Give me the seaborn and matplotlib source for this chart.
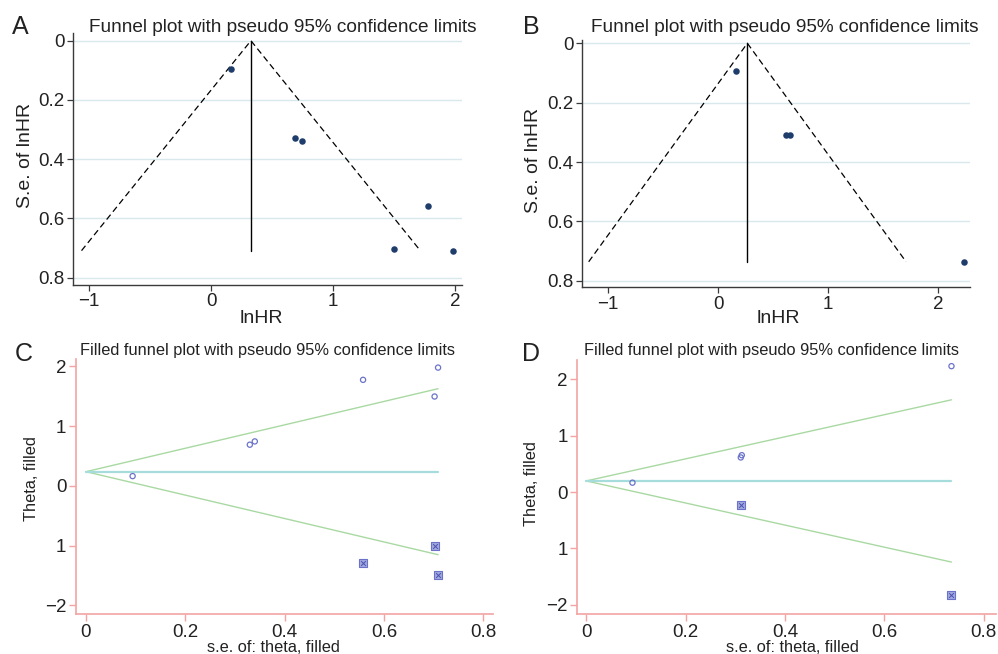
import numpy as np
import pandas as pd
import matplotlib
matplotlib.use("Agg")
import matplotlib.pyplot as plt
import seaborn as sns

# 데이터
# A : lnHR, se
a_lnhr = [0.164, 0.690, 0.745, 1.776, 1.497, 1.981]
a_se = [0.094, 0.330, 0.340, 0.558, 0.702, 0.709]
a_pooled = 0.326
# B
b_lnhr = [0.167, 0.615, 0.655, 2.236]
b_se = [0.093, 0.309, 0.309, 0.736]
b_pooled = 0.267
# C : trim and fill
c_theta = [0.164, 0.690, 0.745, 1.776, 1.497, 1.981]
c_se = [0.094, 0.330, 0.340, 0.558, 0.702, 0.709]
c_fill_theta = [-1.005, -1.290, -1.490]
c_fill_se = [0.702, 0.558, 0.709]
c_pooled = 0.238
# D
d_theta = [0.167, 0.615, 0.655, 2.236]
d_se = [0.093, 0.311, 0.313, 0.735]
d_fill_theta = [-0.235, -1.825]
d_fill_se = [0.312, 0.735]
d_pooled = 0.198

funnel_ticks_y = [0, 0.2, 0.4, 0.6, 0.8]
funnel_tick_labels_y = ["0", "0.2", "0.4", "0.6", "0.8"]
a_ticks_x = [-1, 0, 1, 2]
filled_ticks_y = [2, 1, 0, -1, -2]
filled_tick_labels_y = ["2", "1", "0", "1", "\u22122"]
filled_ticks_x = [0, 0.2, 0.4, 0.6, 0.8]
filled_tick_labels_x = ["0", "0.2", "0.4", "0.6", "0.8"]

sns.set_theme(style="white")
plt.rcParams['font.family'] = ['Liberation Sans', 'DejaVu Sans']

W, H = 998, 654
fig = plt.figure(figsize=(W / 100, H / 100), dpi=100)


def px_axes(left, top, right, bottom):
    return fig.add_axes([left / W, 1 - bottom / H, (right - left) / W, (bottom - top) / H])


def ftext(x, y, s, **kw):
    fig.text(x / W, 1 - y / H, s, **kw)


NAVY = "#1e3d6b"
GRID = "#d9e8ec"
SPINE = "#3a3a3a"
TXT = "#222222"


def funnel(ax, lnhr, se, pooled, xlim, ylim):
    for y in funnel_ticks_y:
        ax.axhline(y, color=GRID, lw=1.0, zorder=0)
    maxse = max(se)
    df_line = pd.DataFrame({"x": [pooled - 1.96 * maxse, pooled, pooled + 1.96 * maxse],
                            "y": [maxse, 0, maxse]})
    ax.plot(df_line.x, df_line.y, color="black", lw=0.9, ls=(0, (5, 3)))
    ax.plot([pooled, pooled], [0, maxse], color="black", lw=1.0)
    sns.scatterplot(x=lnhr, y=se, ax=ax, color=NAVY, s=22, edgecolor=NAVY, linewidth=0, zorder=3)
    ax.set_xlim(*xlim)
    ax.set_ylim(*ylim)
    ax.set_yticks(funnel_ticks_y)
    ax.set_yticklabels(funnel_tick_labels_y)
    ax.set_xticks(a_ticks_x)
    ax.set_xticklabels(["\u22121", "0", "1", "2"])
    for s in ["top", "right"]:
        ax.spines[s].set_visible(False)
    for s in ["left", "bottom"]:
        ax.spines[s].set_color(SPINE)
        ax.spines[s].set_linewidth(1.0)
    ax.tick_params(axis="both", which="both", direction="out", length=4, width=0.9,
                   color=SPINE, labelsize=13.5, labelcolor=TXT, pad=2, left=True, bottom=True)
    ax.set_xlabel("")
    ax.set_ylabel("")


PINK = "#f4a3a3"
GREEN = "#a9d9a2"
TEAL = "#a6dcdc"
BLUE = "#6b73c9"


def filled(ax, theta, se, f_theta, f_se, pooled, xlim, ylim):
    maxse = max(se + f_se)
    ax.plot([0, maxse], [pooled, pooled + 1.96 * maxse], color=GREEN, lw=1.0)
    ax.plot([0, maxse], [pooled, pooled - 1.96 * maxse], color=GREEN, lw=1.0)
    ax.plot([0, maxse], [pooled, pooled], color=TEAL, lw=1.6)
    sns.scatterplot(x=se, y=theta, ax=ax, marker="o", s=14, facecolors="none",
                    edgecolor=BLUE, linewidth=0.9, zorder=3)
    sns.scatterplot(x=f_se, y=f_theta, ax=ax, marker="s", s=40, color="#a3a9df",
                    edgecolor=BLUE, linewidth=0.8, zorder=3)
    sns.scatterplot(x=f_se, y=f_theta, ax=ax, marker="x", s=12, color="#4a52b0",
                    linewidth=0.7, zorder=4)
    ax.set_xlim(*xlim)
    ax.set_ylim(*ylim)
    ax.set_yticks(filled_ticks_y)
    ax.set_yticklabels(filled_tick_labels_y)
    ax.set_xticks(filled_ticks_x)
    ax.set_xticklabels(filled_tick_labels_x)
    for s in ["top", "right"]:
        ax.spines[s].set_visible(False)
    for s in ["left", "bottom"]:
        ax.spines[s].set_color(PINK)
        ax.spines[s].set_linewidth(1.2)
    ax.tick_params(axis="both", which="both", direction="out", length=5, width=1.0,
                   color=PINK, labelsize=13.5, labelcolor=TXT, pad=2, left=True, bottom=True)
    ax.set_xlabel("")
    ax.set_ylabel("")


# A
axA = px_axes(72.7, 33.3, 461.7, 285)
funnel(axA, a_lnhr, a_se, a_pooled, (-1.136, 2.055), (0.825, -0.025))
# B
axB = px_axes(581.7, 40, 969.7, 287.3)
funnel(axB, b_lnhr, b_se, b_pooled, (-1.239, 2.288), (0.822, -0.011))
# C
axC = px_axes(76, 358.7, 492.7, 614.3)
filled(axC, c_theta, c_se, c_fill_theta, c_fill_se, c_pooled, (-0.02, 0.819), (-2.15, 2.13))
# D
axD = px_axes(577.3, 360.3, 995.7, 614.3)
filled(axD, d_theta, d_se, d_fill_theta, d_fill_se, d_pooled, (-0.018, 0.824), (-2.17, 2.34))

# 패널 문자, 제목, 축 이름
letter_kw = dict(fontsize=18, ha="center", va="center", color=TXT)
ftext(20, 27, "A", **letter_kw)
ftext(531, 27, "B", **letter_kw)
ftext(24, 354, "C", **letter_kw)
ftext(531, 354, "D", **letter_kw)

ftext(283, 28, "Funnel plot with pseudo 95% confidence limits", fontsize=13.7, ha="center", va="center", color=TXT)
ftext(785, 28, "Funnel plot with pseudo 95% confidence limits", fontsize=13.7, ha="center", va="center", color=TXT)
ftext(267, 351, "Filled funnel plot with pseudo 95% confidence limits", fontsize=11.8, ha="center", va="center", color=TXT)
ftext(772, 351, "Filled funnel plot with pseudo 95% confidence limits", fontsize=11.8, ha="center", va="center", color=TXT)

ftext(261, 319, "lnHR", fontsize=14, ha="center", va="center", color=TXT)
ftext(778, 319, "lnHR", fontsize=14, ha="center", va="center", color=TXT)
ftext(26, 155, "S.e. of lnHR", fontsize=14, ha="center", va="center", rotation=90, color=TXT)
ftext(534, 160, "S.e. of lnHR", fontsize=14, ha="center", va="center", rotation=90, color=TXT)

ftext(273, 647, "s.e. of: theta, filled", fontsize=11.8, ha="center", va="center", color=TXT)
ftext(792, 647, "s.e. of: theta, filled", fontsize=11.8, ha="center", va="center", color=TXT)
ftext(32, 479, "Theta, filled", fontsize=11.8, ha="center", va="center", rotation=90, color=TXT)
ftext(531, 484, "Theta, filled", fontsize=11.8, ha="center", va="center", rotation=90, color=TXT)

fig.savefig("out.png", dpi=100)
